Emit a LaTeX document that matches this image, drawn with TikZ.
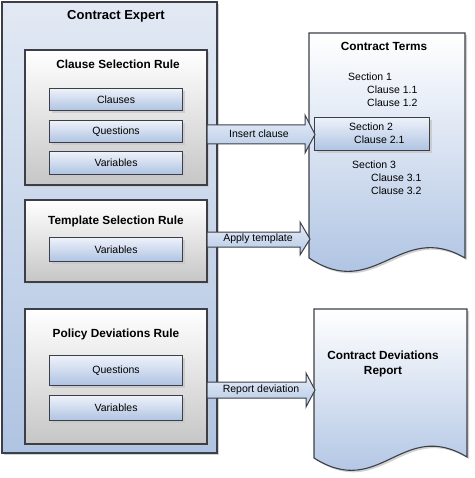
\documentclass[tikz,border=0pt]{standalone}
\usepackage{fontspec}
\setmainfont{Liberation Sans}
\usetikzlibrary{shadows}
\definecolor{edge}{HTML}{3C3F47}
\definecolor{contTop}{HTML}{E2E9F4}
\definecolor{contBot}{HTML}{AFC4E2}
\definecolor{ruleBot}{HTML}{C6C6C6}
\definecolor{itemTop}{HTML}{EEF2FA}
\definecolor{itemBot}{HTML}{AFC3E2}
\definecolor{docBot}{HTML}{A6BDE0}
\definecolor{arrTop}{HTML}{E8EEF8}
\definecolor{arrBot}{HTML}{B4C8E6}
\tikzset{
  shad/.style={drop shadow={shadow xshift=2pt,shadow yshift=-2pt,fill=black!22,opacity=.8}},
  container/.style={draw=edge,line width=1.2pt,top color=contTop,bottom color=contBot,shad},
  rulebox/.style={draw=edge,line width=1.1pt,top color=white,bottom color=ruleBot,shad},
  item/.style={draw=edge,line width=1.1pt,top color=itemTop,bottom color=itemBot,shad,
    anchor=north west,inner sep=0pt,font=\fontsize{10.5}{12}\selectfont},
  doc/.style={draw=edge,line width=1.1pt,top color=white,bottom color=docBot,shad},
  bigarrow/.style={draw=edge,line width=1pt,top color=arrTop,bottom color=arrBot},
  title/.style={font=\bfseries\fontsize{13}{15}\selectfont,inner sep=0pt},
  rtitle/.style={font=\bfseries\fontsize{11.8}{14}\selectfont,inner sep=0pt},
  txt/.style={font=\fontsize{10.5}{12}\selectfont,inner sep=0pt},
  ltxt/.style={font=\fontsize{10.5}{12}\selectfont,inner sep=0pt,anchor=west},
}
\begin{document}
\begin{tikzpicture}[x=1pt,y=-1pt]
\useasboundingbox (0,0) rectangle (474,478);
% container
\path[container] (2,2) rectangle (217,453);
\node[title] (ce) at (116,16) {Contract Expert};
% Clause selection rule
\path[rulebox] (25,50) rectangle (207,185);
\node[rtitle] (csr) at (118,64) {Clause Selection Rule};
\node[item,minimum width=133pt,minimum height=22pt] (cl) at (49,88) {Clauses};
\node[item,minimum width=133pt,minimum height=22pt] (q1) at (49,120) {Questions};
\node[item,minimum width=133pt,minimum height=23pt] (v1) at (49,151) {Variables};
% Template selection rule
\path[rulebox] (25,200) rectangle (207,282);
\node[rtitle] (tsr) at (116,221) {Template Selection Rule};
\node[item,minimum width=133pt,minimum height=24pt] (v2) at (49,237) {Variables};
% Policy deviations rule
\path[rulebox] (25,309) rectangle (207,444);
\node[rtitle] (pdr) at (116,334) {Policy Deviations Rule};
\node[item,minimum width=133pt,minimum height=30pt] (q3) at (49,355) {Questions};
\node[item,minimum width=133pt,minimum height=25pt] (v3) at (49,395) {Variables};
% Contract terms document
\path[doc] (309,33) -- (465,33) -- (465,258)
  .. controls (400,220) and (375,302) .. (309,258) -- cycle;
\node[rtitle] (ct) at (384,46) {Contract Terms};
\node[ltxt] (s1) at (348,77) {Section 1};
\node[ltxt] (c11) at (367,90) {Clause 1.1};
\node[ltxt] (c12) at (367,103) {Clause 1.2};
\node[item,minimum width=115pt,minimum height=33pt] (s2box) at (314,117) {};
\node[ltxt] (s2) at (349,127) {Section 2};
\node[ltxt] (c21) at (354,140) {Clause 2.1};
\node[ltxt] (s3) at (352,165) {Section 3};
\node[ltxt] (c31) at (371,178) {Clause 3.1};
\node[ltxt] (c32) at (371,191) {Clause 3.2};
% Contract deviations report document
\path[doc] (314,309) -- (467,309) -- (467,457)
  .. controls (402,418) and (380,500) .. (314,458) -- cycle;
\node[rtitle,align=center] (cdr) at (383,364) {Contract Deviations\\[1pt]Report};
% block arrows
\path[bigarrow] (207,125) -- (305,125) -- (305,115) -- (315,134.5) -- (305,153) -- (305,144) -- (207,144) -- cycle;
\node[txt] (ins) at (259,134) {Insert clause};
\path[bigarrow] (207,232) -- (300,232) -- (300,222) -- (310,239) -- (300,255) -- (300,247) -- (207,247) -- cycle;
\node[txt] (app) at (258,239) {Apply template};
\path[bigarrow] (207,382) -- (306,382) -- (306,373) -- (315,390) -- (306,407) -- (306,398) -- (207,398) -- cycle;
\node[txt] (rep) at (261,390) {Report deviation};
\end{tikzpicture}
\end{document}
